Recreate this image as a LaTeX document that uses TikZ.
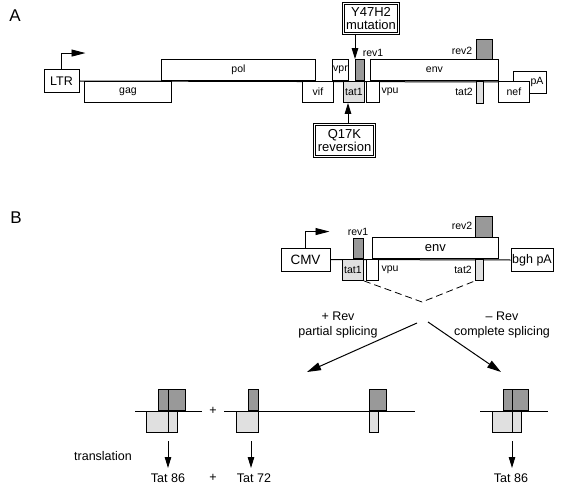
\documentclass[tikz,border=0pt]{standalone}
\usepackage{fontspec}
\setmainfont{Liberation Sans}
\usetikzlibrary{arrows.meta}

\definecolor{revgray}{gray}{0.6}
\definecolor{tatgray}{gray}{0.88}

\tikzset{
  gene/.style 2 args={draw,fill=white,line width=0.9pt,inner sep=0pt,
    minimum width=#1,minimum height=#2,font=\fontsize{10.5}{12}\selectfont},
  up/.style={anchor=south west},
  down/.style={anchor=north west},
  rev/.style={fill=revgray},
  tat/.style={fill=tatgray},
  lbl/.style={inner sep=0pt,font=\fontsize{10.5}{12}\selectfont},
  txt/.style={inner sep=0pt,font=\fontsize{12.5}{14.5}\selectfont,align=center},
  rna/.style={line width=1pt},
  callout/.style 2 args={draw,double,double distance=1.5pt,line width=0.7pt,
    fill=white,inner sep=0pt,minimum width=#1,minimum height=#2,align=center,
    font=\fontsize{13}{13.5}\selectfont},
  pointer/.style={line width=1pt,-{Triangle[length=11pt,width=6.5pt]}},
  prom/.style={line width=0.9pt,-{Triangle[length=14pt,width=7pt]}},
  panel/.style={inner sep=0pt,font=\fontsize{17}{17}\selectfont},
}

\begin{document}
\begin{tikzpicture}[x=1pt,y=-1pt]
\useasboundingbox (0,0) rectangle (564,489);

% ---- A: proviral genome
\node[panel] (A) at (15,16) {A};

\node[gene={35}{23},font=\fontsize{12.5}{14}\selectfont] (LTR) at (61.5,81) {LTR};
\node[gene={33}{22}] (pA) at (529.5,82) {};
\draw[rna] (LTR.east) -- (pA.west);
\draw[prom] (LTR.north) |- ++(24,-16);

\node[gene={87}{21},down] (gag) at (84,81) {gag};
\node[gene={154}{21},up] (pol) at (161,81) {pol};
\node[gene={31}{21},down] (vif) at (302,81) {vif};
\node[gene={16}{21},up] (vpr) at (332,81) {vpr};
\node[gene={21}{21},down,tat] (tat1A) at (343,81) {tat1};
\node[gene={9}{21},up,rev] (rev1A) at (355,81) {};
\node[gene={13}{21},down] (vpuA) at (366,81) {};
\node[gene={128}{21},up] (envA) at (370,81) {env};
\node[gene={16}{20},up,rev] (rev2A) at (476,60) {};
\node[gene={7}{22},down,tat] (tat2A) at (476,81) {};
\node[gene={31}{21},down] (nef) at (498,81) {nef};

\node[lbl] (rev1Alab) at (373,53) {rev1};
\node[lbl] (vpuAlab) at (390,92) {vpu};
\node[lbl] (rev2Alab) at (462,51) {rev2};
\node[lbl] (tat2Alab) at (464,92) {tat2};
\node[lbl] (pAlab) at (537,82) {pA};

\node[callout={55}{30}] (mut) at (371,18.5) {Y47H2\\mutation};
\node[callout={60}{32}] (revert) at (344.5,140.5) {Q17K\\reversion};
\draw[pointer] (mut.south -| rev1A.north west) -- (rev1A.north west);
\coordinate (revtop) at (348,124);
\draw[pointer] (revtop) -- (revtop |- tat1A.south);

% ---- B: expression construct
\node[panel] (B) at (16,218) {B};

\node[gene={49}{23},font=\fontsize{13.5}{15}\selectfont] (CMV) at (305.5,259.5) {CMV};
\node[gene={42}{23},font=\fontsize{12.5}{14}\selectfont] (bgh) at (532,260) {bgh pA};
\draw[rna] (CMV.east) -- (bgh.west);
\draw[prom] (CMV.north) |- ++(24,-16);

\node[gene={21}{21},down,tat] (tat1B) at (342,259) {tat1};
\node[gene={10}{20},up,rev] (rev1B) at (353,259) {};
\node[gene={12}{21},down] (vpuB) at (366,259) {};
\node[gene={126}{21},up,font=\fontsize{13}{15}\selectfont] (envB) at (372,259) {env};
\node[gene={17}{21},up,rev] (rev2B) at (475,238) {};
\node[gene={8}{21},down,tat] (tat2B) at (475,259) {};

\node[lbl] (rev1Blab) at (358,232) {rev1};
\node[lbl] (vpuBlab) at (390,270) {vpu};
\node[lbl] (rev2Blab) at (462,226) {rev2};
\node[lbl] (tat2Blab) at (463,270) {tat2};

\coordinate (vee) at (422,302);
\draw[line width=0.8pt,dash pattern=on 7pt off 4pt] (tat1B.south east) -- (vee) -- (tat2B.south west);

\node[txt] (plusRev) at (338,325) {+ Rev\\partial splicing};
\node[txt] (minusRev) at (502,325) {– Rev\\complete splicing};
\coordinate (forkL) at (417,323);
\coordinate (forkR) at (428,322);
\coordinate (partial) at (307,372);
\coordinate (complete) at (501,372);
\draw[pointer,-{Triangle[length=14pt,width=8pt]}] (forkL) -- (partial);
\draw[pointer,-{Triangle[length=14pt,width=8pt]}] (forkR) -- (complete);

% spliced mRNAs
\node[gene={27}{21},up,rev] (p86rev) at (158,411) {};
\node[gene={31}{21},down,tat] (p86tat) at (146,411) {};
\draw[rna] (135,411) -- (202,411);
\draw[rna] (168,390) -- (168,432);

\node[txt] (plusA) at (213,411) {+};

\node[gene={10}{21},up,rev] (p72rev) at (248,411) {};
\node[gene={22}{21},down,tat] (p72tat) at (236,411) {};
\node[gene={17}{21},up,rev] (p72rev2) at (369,411) {};
\node[gene={9}{21},down,tat] (p72tat2) at (369,411) {};
\draw[rna] (224,411) -- (415,411);

\node[gene={25}{21},up,rev] (c86rev) at (503,411) {};
\node[gene={29}{21},down,tat] (c86tat) at (492,411) {};
\draw[rna] (480,411) -- (548,411);
\draw[rna] (512,390) -- (512,432);

% translation
\node[txt] (transl) at (103,456) {translation};
\node[txt] (tat86a) at (168,478) {Tat 86};
\node[txt] (plusB) at (213,478) {+};
\node[txt] (tat72) at (254,478) {Tat 72};
\node[txt] (tat86b) at (511,478) {Tat 86};
\coordinate (tr1) at (168,441);
\coordinate (tr2) at (251,441);
\coordinate (tr3) at (512,441);
\draw[pointer,shorten >=10pt] (tr1) -- (tr1 |- tat86a.center);
\draw[pointer,shorten >=10pt] (tr2) -- (tr2 |- tat72.center);
\draw[pointer,shorten >=10pt] (tr3) -- (tr3 |- tat86b.center);
\end{tikzpicture}
\end{document}
